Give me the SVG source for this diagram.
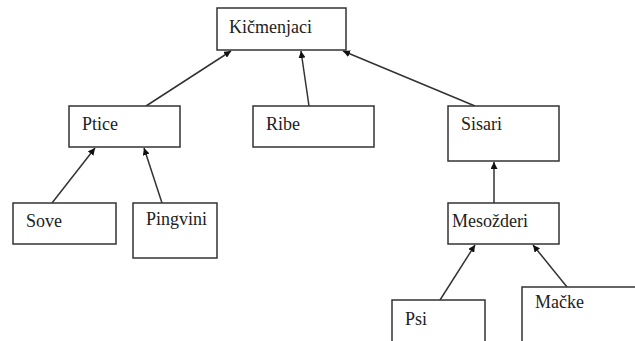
<svg xmlns="http://www.w3.org/2000/svg" width="635" height="341" viewBox="0 0 635 341">
<style>
.box{fill:#fff;stroke:#333;stroke-width:1.5}
.lbl{font-size:18px;fill:#222}
.edge{stroke:#333;stroke-width:1.5;fill:none;marker-end:url(#ah)}
</style>
<defs>
<marker id="ah" viewBox="0 0 10 10" refX="10" refY="5" markerWidth="7" markerHeight="7" markerUnits="userSpaceOnUse" orient="auto">
<path d="M0,0 L10,5 L0,10 z" fill="#111"/>
</marker>
</defs>
<rect width="635" height="341" fill="#fff"/>
<g id="connectors">
<line class="edge" x1="146" y1="106" x2="231" y2="51"/>
<line class="edge" x1="309" y1="106" x2="301" y2="51"/>
<line class="edge" x1="475" y1="106" x2="343" y2="51"/>
<line class="edge" x1="52" y1="203" x2="95" y2="148"/>
<line class="edge" x1="162" y1="203" x2="144" y2="148"/>
<line class="edge" x1="494" y1="203" x2="494" y2="162"/>
<line class="edge" x1="440" y1="300" x2="475" y2="245"/>
<line class="edge" x1="567" y1="287" x2="533" y2="245"/>
</g>
<g font-family="Liberation Serif, DejaVu Serif, serif">
<g id="kicmenjaci"><rect class="box" x="217" y="8" width="129" height="42"/><text class="lbl" x="229" y="33">Kičmenjaci</text></g>
<g id="ptice"><rect class="box" x="69" y="106" width="111" height="41"/><text class="lbl" x="82" y="130">Ptice</text></g>
<g id="ribe"><rect class="box" x="253" y="106" width="121" height="41"/><text class="lbl" x="266" y="130">Ribe</text></g>
<g id="sisari"><rect class="box" x="448" y="106" width="111" height="55"/><text class="lbl" x="461" y="130">Sisari</text></g>
<g id="sove"><rect class="box" x="13" y="203" width="103" height="41"/><text class="lbl" x="26" y="227">Sove</text></g>
<g id="pingvini"><rect class="box" x="133" y="203" width="84" height="55"/><text class="lbl" x="146" y="225">Pingvini</text></g>
<g id="mesozderi"><rect class="box" x="448" y="203" width="111" height="41"/><text class="lbl" x="452" y="227">Mesožderi</text></g>
<g id="psi"><rect class="box" x="392" y="300" width="93" height="60"/><text class="lbl" x="405" y="325">Psi</text></g>
<g id="macke"><rect class="box" x="522" y="287" width="130" height="70"/><text class="lbl" x="535" y="308">Mačke</text></g>
</g>
</svg>
